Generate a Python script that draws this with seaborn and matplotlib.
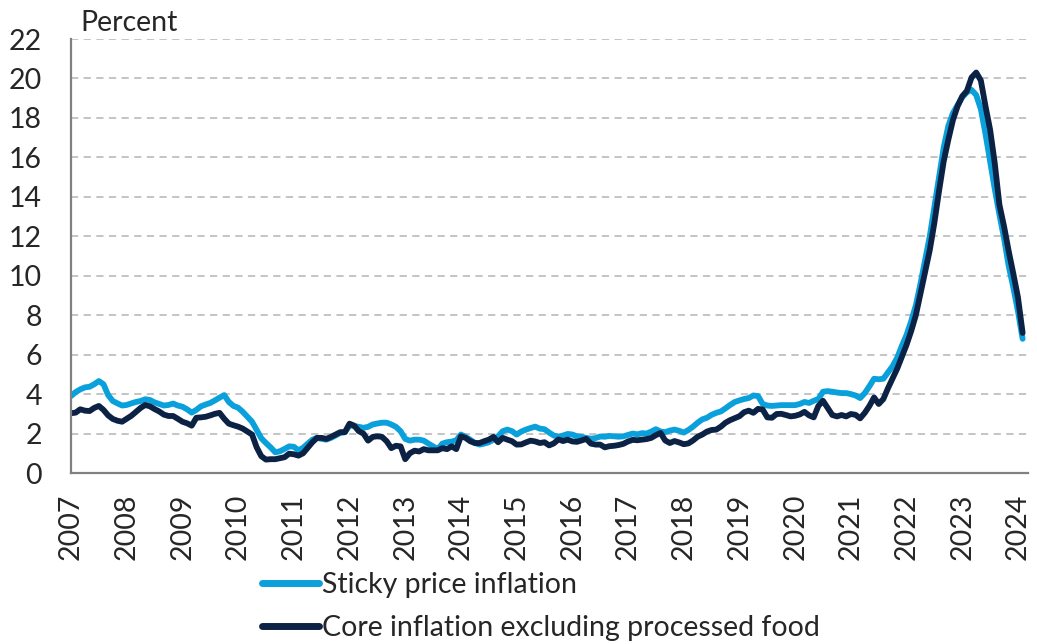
import numpy as np
import pandas as pd
import matplotlib
matplotlib.use('Agg')
import matplotlib.pyplot as plt
import seaborn as sns

# monthly readings, Jan 2007 - Feb 2024 (percent)
sticky = [
    3.9, 4.1, 4.24, 4.34, 4.37, 4.5, 4.66, 4.5, 3.95, 3.65, 3.53, 3.42,      # 2007
    3.45, 3.53, 3.6, 3.65, 3.74, 3.7, 3.58, 3.5, 3.42, 3.45, 3.52, 3.42,     # 2008
    3.36, 3.23, 3.06, 3.2, 3.38, 3.47, 3.55, 3.68, 3.82, 3.95, 3.6, 3.4,     # 2009
    3.31, 3.1, 2.85, 2.6, 2.18, 1.76, 1.52, 1.3, 1.05, 1.1, 1.22, 1.35,      # 2010
    1.33, 1.15, 1.28, 1.49, 1.69, 1.78, 1.73, 1.69, 1.78, 1.9, 2.03, 2.07,   # 2011
    2.41, 2.38, 2.34, 2.29, 2.34, 2.46, 2.51, 2.55, 2.55, 2.46, 2.34, 2.12,  # 2012
    1.73, 1.64, 1.69, 1.69, 1.64, 1.49, 1.35, 1.21, 1.49, 1.56, 1.59, 1.66,  # 2013
    1.95, 1.83, 1.69, 1.52, 1.44, 1.49, 1.56, 1.69, 1.86, 2.12, 2.2, 2.12,   # 2014
    1.95, 2.1, 2.2, 2.28, 2.35, 2.25, 2.22, 2.05, 1.9, 1.84, 1.9, 1.98,      # 2015
    1.95, 1.86, 1.83, 1.78, 1.74, 1.77, 1.85, 1.84, 1.88, 1.86, 1.84, 1.86,  # 2016
    1.93, 2.0, 1.96, 2.02, 2.0, 2.1, 2.22, 2.1, 2.07, 2.15, 2.2, 2.14,       # 2017
    2.05, 2.18, 2.35, 2.55, 2.72, 2.8, 2.95, 3.05, 3.12, 3.28, 3.45, 3.6,    # 2018
    3.68, 3.75, 3.8, 3.93, 3.9, 3.5, 3.42, 3.4, 3.42, 3.44, 3.44, 3.44,      # 2019
    3.44, 3.5, 3.6, 3.55, 3.66, 3.75, 4.12, 4.15, 4.12, 4.08, 4.05, 4.05,    # 2020
    4.0, 3.93, 3.8, 4.05, 4.4, 4.78, 4.75, 4.78, 5.1, 5.42, 5.85, 6.45,      # 2021
    7.0, 7.7, 8.5, 9.6, 10.8, 12.0, 13.5, 15.0, 16.5, 17.6, 18.25, 18.65,    # 2022
    19.05, 19.3, 19.42, 19.16, 18.45, 17.2, 15.8, 14.4, 13.1, 11.9, 10.5, 9.4,  # 2023
    8.2, 6.8,                                                                # 2024
]
core = [
    3.03, 3.06, 3.23, 3.16, 3.14, 3.3, 3.4, 3.2, 2.92, 2.74, 2.65, 2.6,      # 2007
    2.75, 2.9, 3.1, 3.3, 3.45, 3.38, 3.24, 3.12, 2.96, 2.89, 2.89, 2.75,     # 2008
    2.6, 2.52, 2.4, 2.8, 2.82, 2.85, 2.92, 3.0, 3.05, 2.75, 2.5, 2.42,       # 2009
    2.35, 2.25, 2.1, 1.95, 1.3, 0.85, 0.68, 0.7, 0.7, 0.75, 0.8, 0.98,       # 2010
    0.95, 0.88, 1.0, 1.28, 1.56, 1.78, 1.78, 1.73, 1.83, 1.95, 2.07, 2.07,   # 2011
    2.5, 2.4, 2.12, 2.0, 1.64, 1.83, 1.86, 1.83, 1.61, 1.26, 1.38, 1.35,     # 2012
    0.7, 1.0, 1.13, 1.09, 1.21, 1.15, 1.15, 1.15, 1.26, 1.21, 1.35, 1.21,    # 2013
    1.86, 1.78, 1.61, 1.52, 1.52, 1.61, 1.69, 1.83, 1.56, 1.78, 1.69, 1.61,  # 2014
    1.44, 1.45, 1.55, 1.64, 1.6, 1.52, 1.56, 1.4, 1.5, 1.7, 1.62, 1.69,      # 2015
    1.6, 1.58, 1.65, 1.73, 1.49, 1.44, 1.44, 1.3, 1.36, 1.38, 1.42, 1.48,    # 2016
    1.6, 1.68, 1.66, 1.69, 1.72, 1.78, 1.92, 2.03, 1.65, 1.52, 1.62, 1.55,   # 2017
    1.46, 1.5, 1.65, 1.84, 1.95, 2.1, 2.18, 2.2, 2.35, 2.55, 2.68, 2.78,     # 2018
    2.88, 3.08, 3.16, 3.05, 3.25, 3.22, 2.82, 2.8, 2.99, 3.0, 2.94, 2.87,    # 2019
    2.9, 2.97, 3.1, 2.92, 2.82, 3.4, 3.66, 3.3, 2.94, 2.87, 2.94, 2.87,      # 2020
    2.99, 2.95, 2.77, 3.05, 3.4, 3.83, 3.5, 3.75, 4.3, 4.8, 5.3, 5.9,        # 2021
    6.5, 7.2, 8.0, 9.1, 10.2, 11.3, 12.7, 14.3, 15.8, 16.9, 17.9, 18.6,      # 2022
    19.1, 19.37, 20.05, 20.3, 19.9, 18.6, 17.4, 15.7, 13.6, 12.5, 11.25, 10.1,  # 2023
    8.9, 7.1,                                                                # 2024
]
series_names = ['Sticky price inflation', 'Core inflation excluding processed food']
colors = ['#0AA0DC', '#0C2245']
year_ticks = list(range(2007, 2025))
y_ticks = list(range(0, 23, 2))

months = pd.date_range('2007-01-01', periods=len(sticky), freq='MS')
t = months.year + (months.month - 1) / 12.0

df = pd.concat([
    pd.DataFrame({'t': t, 'value': sticky, 'series': series_names[0]}),
    pd.DataFrame({'t': t, 'value': core, 'series': series_names[1]}),
])

sns.set_style('white')
plt.rcParams['font.family'] = ['Lato', 'DejaVu Sans']
fs = 20.5

fig = plt.figure(figsize=(10.37, 6.44), dpi=100)
ax = fig.add_axes([71 / 1037, 1 - 473 / 644, (1028 - 71) / 1037, (473 - 39) / 644])

sns.lineplot(data=df, x='t', y='value', hue='series', palette=colors,
             hue_order=series_names, linewidth=4.2, ax=ax, legend=False)

ax.set_xlim(2007, 2024.18)
ax.set_ylim(0, 22)
ax.set_xticks(year_ticks)
ax.set_xticklabels([str(y) for y in year_ticks], rotation=90, fontsize=fs)
ax.set_yticks(y_ticks)
ax.set_yticklabels([str(v) for v in y_ticks], fontsize=fs)
ax.set_xlabel('')
ax.set_ylabel('')

ax.yaxis.grid(True, color='#BFBFBF', linestyle=(0, (4, 3)), linewidth=1.3)
ax.set_axisbelow(True)
for side in ['top', 'right']:
    ax.spines[side].set_visible(False)
for side in ['left', 'bottom']:
    ax.spines[side].set_color('#808080')
    ax.spines[side].set_linewidth(1.6)
ax.tick_params(axis='both', direction='out', length=9, width=1.6, color='#808080')
ax.tick_params(axis='x', pad=6)
ax.tick_params(axis='y', pad=12)

fig.text(80 / 1037, 1 - 31 / 644, 'Percent', fontsize=fs, va='baseline')

handles = [plt.Line2D([], [], color=c, linewidth=5) for c in colors]
fig.legend(handles, series_names, loc='upper left', bbox_to_anchor=(262 / 1037, 1 - 572 / 644),
           frameon=False, fontsize=fs, handlelength=2.0, handletextpad=0.12,
           labelspacing=0.6, borderpad=0, borderaxespad=0)

fig.savefig('out.png', dpi=100)
